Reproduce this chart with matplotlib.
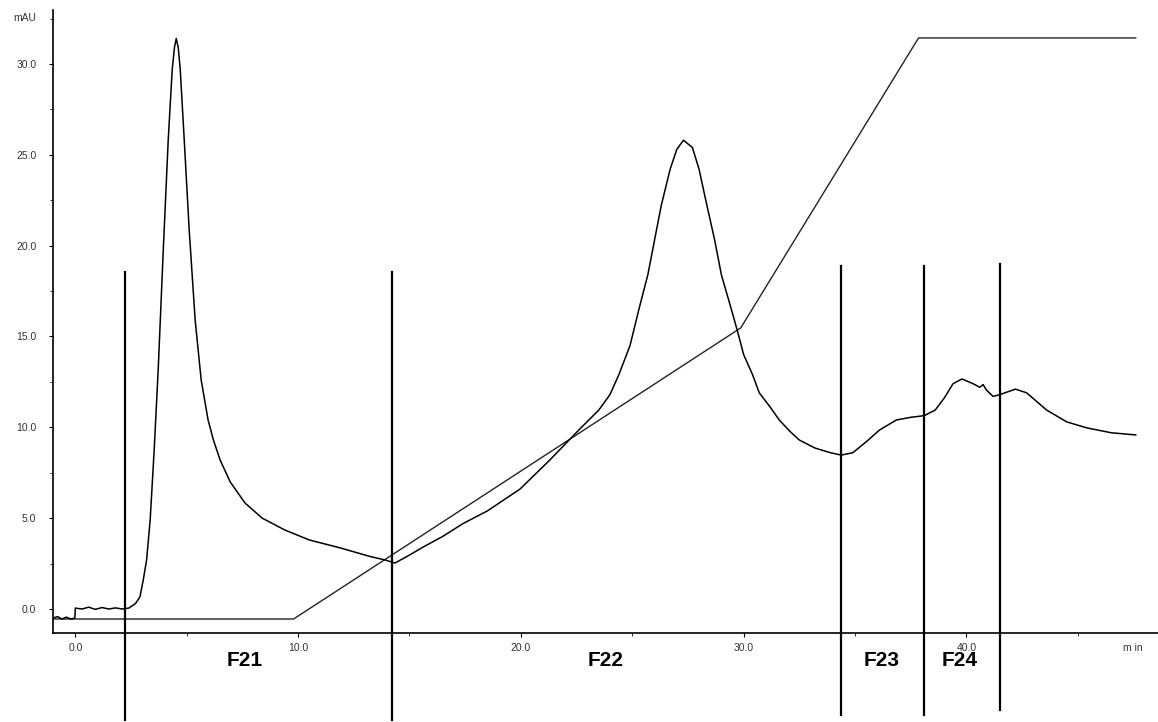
import numpy as np
import matplotlib
matplotlib.use("Agg")
import matplotlib.pyplot as plt
from matplotlib.ticker import MultipleLocator, FormatStrFormatter

plt.rcParams['font.family'] = ['Liberation Sans', 'DejaVu Sans']

# UV trace (min, mAU)
t_uv = [-1.0, -0.8, -0.6, -0.4, -0.2, -0.02, 0.0, 0.3, 0.6, 0.9, 1.2, 1.5, 1.8, 2.1, 2.4,
        2.7, 2.9, 3.05, 3.2, 3.36, 3.54, 3.72, 3.95, 4.17, 4.35, 4.45, 4.53, 4.62, 4.71,
        4.89, 5.11, 5.38, 5.65, 5.96, 6.2, 6.5, 6.95, 7.62, 8.39, 9.4, 10.5, 11.9, 13.2,
        13.9, 14.35, 14.9, 15.6, 16.5, 17.4, 18.5, 19.96, 21.3, 22.6, 23.5, 24.0, 24.4,
        24.9, 25.3, 25.7, 26.0, 26.3, 26.7, 27.0, 27.3, 27.7, 28.0, 28.3, 28.7, 29.0,
        29.4, 29.7, 30.0, 30.4, 30.7, 31.2, 31.6, 32.1, 32.5, 33.2, 33.9, 34.38, 34.9,
        35.5, 36.1, 36.85, 37.5, 38.1, 38.6, 39.0, 39.4, 39.8, 40.3, 40.6, 40.75, 40.9,
        41.2, 41.5, 42.2, 42.7, 43.6, 44.5, 45.4, 46.5, 47.6]
a_uv = [-0.5, -0.42, -0.55, -0.45, -0.55, -0.5, 0.05, 0.0, 0.1, -0.02, 0.08, 0.0, 0.06, 0.0,
        0.05, 0.3, 0.66, 1.6, 2.7, 4.9, 8.75, 13.15, 19.8, 25.8, 29.7, 30.9, 31.4, 30.9,
        29.7, 25.8, 20.9, 15.9, 12.6, 10.4, 9.3, 8.2, 7.0, 5.83, 5.0, 4.35, 3.8, 3.36, 2.9,
        2.7, 2.53, 2.9, 3.4, 4.0, 4.7, 5.4, 6.6, 8.2, 9.85, 10.95, 11.8, 12.9,
        14.5, 16.5, 18.4, 20.3, 22.2, 24.2, 25.3, 25.8, 25.4, 24.2, 22.5, 20.3, 18.4,
        16.7, 15.4, 14.0, 12.9, 11.9, 11.1, 10.4, 9.75, 9.3, 8.86, 8.6, 8.47, 8.6,
        9.2, 9.85, 10.4, 10.55, 10.64, 10.95, 11.6, 12.4, 12.66, 12.4, 12.2, 12.35, 12.05,
        11.7, 11.8, 12.1, 11.9, 10.95, 10.3, 9.97, 9.7, 9.58]

# gradient program
t_grad = [-1.0, 9.8, 29.87, 37.85, 47.6]
c_grad = [-0.55, -0.55, 15.47, 31.43, 31.43]

# fraction cuts: position, top, bottom
cut_x = [2.24, 14.2, 34.35, 38.1, 41.5]
cut_top = [18.55, 18.55, 18.9, 18.9, 19.0]
cut_bot = [-6.1, -6.1, -5.83, -5.83, -5.56]

frac_names = ['F21', 'F22', 'F23', 'F24']
frac_x = [7.6, 23.8, 36.2, 39.7]

fig = plt.figure(figsize=(11.58, 7.22), dpi=100)
ax = fig.add_axes([0.0458, 0.1233, 0.9542, 0.8629])

ax.plot(t_grad, c_grad, color='#222222', lw=1.0)
ax.plot(t_uv, a_uv, color='black', lw=1.1)

for x, top, bot in zip(cut_x, cut_top, cut_bot):
    ax.plot([x, x], [bot, top], color='black', lw=1.6, clip_on=False)

for name, x in zip(frac_names, frac_x):
    ax.text(x, -2.86, name, fontsize=15, fontweight='bold', ha='center', va='center')

ax.set_xlim(-1.0, 48.6)
ax.set_ylim(-1.32, 32.97)

ax.xaxis.set_major_locator(MultipleLocator(10))
ax.xaxis.set_minor_locator(MultipleLocator(5))
ax.yaxis.set_major_locator(MultipleLocator(5))
ax.yaxis.set_minor_locator(MultipleLocator(2.5))
ax.xaxis.set_major_formatter(FormatStrFormatter('%.1f'))
ax.yaxis.set_major_formatter(FormatStrFormatter('%.1f'))
ax.set_xticks([0, 10, 20, 30, 40])

ax.tick_params(which='major', length=3, width=0.8, labelsize=7.5, labelcolor='#333333')
ax.tick_params(which='minor', length=2, width=0.6)
ax.tick_params(axis='y', pad=9)
ax.tick_params(axis='x', pad=4)

for s in ['top', 'right']:
    ax.spines[s].set_visible(False)
for s in ['left', 'bottom']:
    ax.spines[s].set_linewidth(1.2)

fig.text(1133 / 1158, 1 - 648 / 722, 'm in', fontsize=7.5, color='#333333', ha='center', va='center')
fig.text(25 / 1158, 1 - 18 / 722, 'mAU', fontsize=7.5, color='#333333', ha='center', va='center')

fig.savefig('out.png', dpi=100)
